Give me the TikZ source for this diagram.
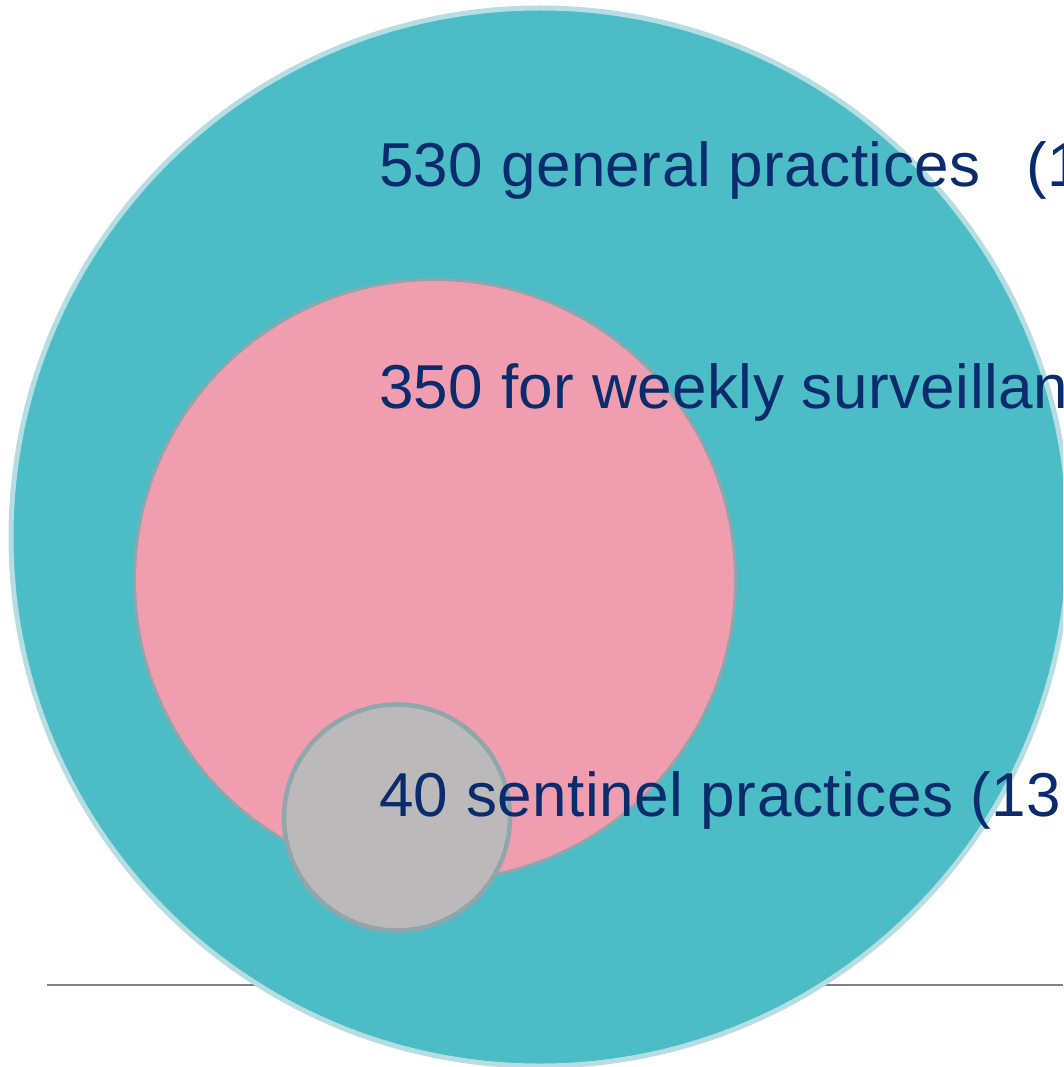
\documentclass[tikz,border=0pt]{standalone}
\usepackage{fontspec}
\setmainfont{Liberation Sans}[LetterSpace=0.8]
\definecolor{tealfill}{HTML}{4CBCC7}
\definecolor{tealrim}{HTML}{B6DEE2}
\definecolor{pinkfill}{HTML}{F19DB0}
\definecolor{rimgray}{HTML}{8FA6AA}
\definecolor{grayfill}{HTML}{BBB9BA}
\definecolor{navy}{HTML}{0A2C6C}
\definecolor{linegray}{HTML}{808080}
\tikzset{
  ring/.style={circle, inner sep=0pt, outer sep=0pt},
  label text/.style={anchor=base west, inner sep=0pt, outer sep=0pt, text=navy,
    font=\fontsize{62}{62}\selectfont}
}
\begin{document}
\begin{tikzpicture}[x=1pt,y=-1pt]
\useasboundingbox (0,0) rectangle (1063,1067);
\clip (0,0) rectangle (1063,1067);
\coordinate (lineL) at (47,985);
\coordinate (lineR) at (1063,985);
\draw[linegray, line width=2pt] (lineL) -- (lineR);
\node[ring, draw=tealrim, fill=tealfill, line width=5pt, minimum size=1058pt] (outer) at (540,537) {};
\node[ring, draw=rimgray, fill=pinkfill, line width=3pt, minimum size=601pt] (mid) at (435,580) {};
\node[ring, draw=rimgray, fill=grayfill, line width=4.5pt, minimum size=226pt] (inner) at (397,817.5) {};
\node[label text] (t1) at (379,187) {530 general practices\ \ \hspace{10pt}(1};
\node[label text] (t2) at (379,408) {350 for weekly surveillance};
\node[label text] (t3) at (379,816) {40 sentinel practices (13};
\end{tikzpicture}
\end{document}
